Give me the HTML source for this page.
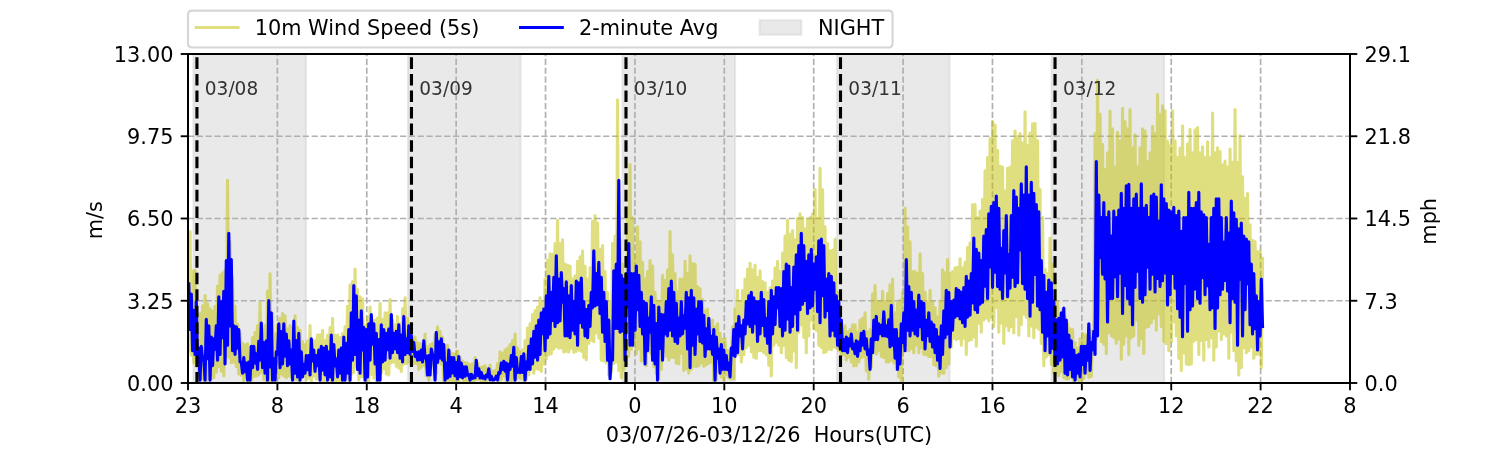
<!DOCTYPE html>
<html lang="en"><head><meta charset="utf-8"><title>10m Wind Speed</title>
<style>html,body{margin:0;padding:0;background:#fff;}body{width:1500px;height:450px;overflow:hidden;font-family:"DejaVu Sans","Liberation Sans",sans-serif;}svg{display:block;will-change:transform;}</style></head>
<body>
<svg  width="1500" height="450" viewBox="0 0 720 216">
 
 <defs>
  <style type="text/css">*{stroke-linejoin: round; stroke-linecap: butt}</style>
 </defs>
 <g id="figure_1">
  <g id="patch_1">
   <path d="M 0 216 
L 720 216 
L 720 0 
L 0 0 
z
" style="fill: #ffffff"/>
  </g>
  <g id="axes_1">
   <g id="patch_2">
    <path d="M 90.24 183.84 
L 648 183.84 
L 648 25.92 
L 90.24 25.92 
z
" style="fill: #ffffff"/>
   </g>
   <g id="patch_3">
    <path d="M 92.868766 183.84 
L 146.874092 183.84 
L 146.874092 25.92 
L 92.868766 25.92 
z
" clip-path="url(#p7437178275)" style="fill: #d3d3d3; fill-opacity: 0.5; stroke: #d3d3d3; stroke-opacity: 0.5; stroke-linejoin: miter"/>
   </g>
   <g id="patch_4">
    <path d="M 195.839843 183.84 
L 249.845169 183.84 
L 249.845169 25.92 
L 195.839843 25.92 
z
" clip-path="url(#p7437178275)" style="fill: #d3d3d3; fill-opacity: 0.5; stroke: #d3d3d3; stroke-opacity: 0.5; stroke-linejoin: miter"/>
   </g>
   <g id="patch_5">
    <path d="M 298.81092 183.84 
L 352.816246 183.84 
L 352.816246 25.92 
L 298.81092 25.92 
z
" clip-path="url(#p7437178275)" style="fill: #d3d3d3; fill-opacity: 0.5; stroke: #d3d3d3; stroke-opacity: 0.5; stroke-linejoin: miter"/>
   </g>
   <g id="patch_6">
    <path d="M 401.781997 183.84 
L 455.787323 183.84 
L 455.787323 25.92 
L 401.781997 25.92 
z
" clip-path="url(#p7437178275)" style="fill: #d3d3d3; fill-opacity: 0.5; stroke: #d3d3d3; stroke-opacity: 0.5; stroke-linejoin: miter"/>
   </g>
   <g id="patch_7">
    <path d="M 504.753073 183.84 
L 558.7584 183.84 
L 558.7584 25.92 
L 504.753073 25.92 
z
" clip-path="url(#p7437178275)" style="fill: #d3d3d3; fill-opacity: 0.5; stroke: #d3d3d3; stroke-opacity: 0.5; stroke-linejoin: miter"/>
   </g>
   <g id="matplotlib.axis_1">
    <g id="xtick_1">
     <g id="line2d_1">
      <path d="M 90.24 183.84 
L 90.24 25.92 
" clip-path="url(#p7437178275)" style="fill: none; stroke-dasharray: 2.96,1.28; stroke-dashoffset: 0; stroke: #b0b0b0; stroke-width: 0.8"/>
     </g>
     <g id="line2d_2">
      
      <g>
       <path d="M 0 0 L 0 3.5" transform="translate(90.24 183.84)" style="stroke: #000000; stroke-width: 0.9"/>
      </g>
     </g>
     <g id="text_1">
      <text style="font-size: 10px; font-family: 'DejaVu Sans', 'Liberation Sans', sans-serif; text-anchor: middle" x="90.24" y="198.438438" transform="rotate(-0 90.24 198.438438)">23</text>
     </g>
    </g>
    <g id="xtick_2">
     <g id="line2d_3">
      <path d="M 133.144615 183.84 
L 133.144615 25.92 
" clip-path="url(#p7437178275)" style="fill: none; stroke-dasharray: 2.96,1.28; stroke-dashoffset: 0; stroke: #b0b0b0; stroke-width: 0.8"/>
     </g>
     <g id="line2d_4">
      <g>
       <path d="M 0 0 L 0 3.5" transform="translate(133.144615 183.84)" style="stroke: #000000; stroke-width: 0.9"/>
      </g>
     </g>
     <g id="text_2">
      <text style="font-size: 10px; font-family: 'DejaVu Sans', 'Liberation Sans', sans-serif; text-anchor: middle" x="133.144615" y="198.438438" transform="rotate(-0 133.144615 198.438438)">8</text>
     </g>
    </g>
    <g id="xtick_3">
     <g id="line2d_5">
      <path d="M 176.049231 183.84 
L 176.049231 25.92 
" clip-path="url(#p7437178275)" style="fill: none; stroke-dasharray: 2.96,1.28; stroke-dashoffset: 0; stroke: #b0b0b0; stroke-width: 0.8"/>
     </g>
     <g id="line2d_6">
      <g>
       <path d="M 0 0 L 0 3.5" transform="translate(176.049231 183.84)" style="stroke: #000000; stroke-width: 0.9"/>
      </g>
     </g>
     <g id="text_3">
      <text style="font-size: 10px; font-family: 'DejaVu Sans', 'Liberation Sans', sans-serif; text-anchor: middle" x="176.049231" y="198.438438" transform="rotate(-0 176.049231 198.438438)">18</text>
     </g>
    </g>
    <g id="xtick_4">
     <g id="line2d_7">
      <path d="M 218.953846 183.84 
L 218.953846 25.92 
" clip-path="url(#p7437178275)" style="fill: none; stroke-dasharray: 2.96,1.28; stroke-dashoffset: 0; stroke: #b0b0b0; stroke-width: 0.8"/>
     </g>
     <g id="line2d_8">
      <g>
       <path d="M 0 0 L 0 3.5" transform="translate(218.953846 183.84)" style="stroke: #000000; stroke-width: 0.9"/>
      </g>
     </g>
     <g id="text_4">
      <text style="font-size: 10px; font-family: 'DejaVu Sans', 'Liberation Sans', sans-serif; text-anchor: middle" x="218.953846" y="198.438438" transform="rotate(-0 218.953846 198.438438)">4</text>
     </g>
    </g>
    <g id="xtick_5">
     <g id="line2d_9">
      <path d="M 261.858462 183.84 
L 261.858462 25.92 
" clip-path="url(#p7437178275)" style="fill: none; stroke-dasharray: 2.96,1.28; stroke-dashoffset: 0; stroke: #b0b0b0; stroke-width: 0.8"/>
     </g>
     <g id="line2d_10">
      <g>
       <path d="M 0 0 L 0 3.5" transform="translate(261.858462 183.84)" style="stroke: #000000; stroke-width: 0.9"/>
      </g>
     </g>
     <g id="text_5">
      <text style="font-size: 10px; font-family: 'DejaVu Sans', 'Liberation Sans', sans-serif; text-anchor: middle" x="261.858462" y="198.438438" transform="rotate(-0 261.858462 198.438438)">14</text>
     </g>
    </g>
    <g id="xtick_6">
     <g id="line2d_11">
      <path d="M 304.763077 183.84 
L 304.763077 25.92 
" clip-path="url(#p7437178275)" style="fill: none; stroke-dasharray: 2.96,1.28; stroke-dashoffset: 0; stroke: #b0b0b0; stroke-width: 0.8"/>
     </g>
     <g id="line2d_12">
      <g>
       <path d="M 0 0 L 0 3.5" transform="translate(304.763077 183.84)" style="stroke: #000000; stroke-width: 0.9"/>
      </g>
     </g>
     <g id="text_6">
      <text style="font-size: 10px; font-family: 'DejaVu Sans', 'Liberation Sans', sans-serif; text-anchor: middle" x="304.763077" y="198.438438" transform="rotate(-0 304.763077 198.438438)">0</text>
     </g>
    </g>
    <g id="xtick_7">
     <g id="line2d_13">
      <path d="M 347.667692 183.84 
L 347.667692 25.92 
" clip-path="url(#p7437178275)" style="fill: none; stroke-dasharray: 2.96,1.28; stroke-dashoffset: 0; stroke: #b0b0b0; stroke-width: 0.8"/>
     </g>
     <g id="line2d_14">
      <g>
       <path d="M 0 0 L 0 3.5" transform="translate(347.667692 183.84)" style="stroke: #000000; stroke-width: 0.9"/>
      </g>
     </g>
     <g id="text_7">
      <text style="font-size: 10px; font-family: 'DejaVu Sans', 'Liberation Sans', sans-serif; text-anchor: middle" x="347.667692" y="198.438438" transform="rotate(-0 347.667692 198.438438)">10</text>
     </g>
    </g>
    <g id="xtick_8">
     <g id="line2d_15">
      <path d="M 390.572308 183.84 
L 390.572308 25.92 
" clip-path="url(#p7437178275)" style="fill: none; stroke-dasharray: 2.96,1.28; stroke-dashoffset: 0; stroke: #b0b0b0; stroke-width: 0.8"/>
     </g>
     <g id="line2d_16">
      <g>
       <path d="M 0 0 L 0 3.5" transform="translate(390.572308 183.84)" style="stroke: #000000; stroke-width: 0.9"/>
      </g>
     </g>
     <g id="text_8">
      <text style="font-size: 10px; font-family: 'DejaVu Sans', 'Liberation Sans', sans-serif; text-anchor: middle" x="390.572308" y="198.438438" transform="rotate(-0 390.572308 198.438438)">20</text>
     </g>
    </g>
    <g id="xtick_9">
     <g id="line2d_17">
      <path d="M 433.476923 183.84 
L 433.476923 25.92 
" clip-path="url(#p7437178275)" style="fill: none; stroke-dasharray: 2.96,1.28; stroke-dashoffset: 0; stroke: #b0b0b0; stroke-width: 0.8"/>
     </g>
     <g id="line2d_18">
      <g>
       <path d="M 0 0 L 0 3.5" transform="translate(433.476923 183.84)" style="stroke: #000000; stroke-width: 0.9"/>
      </g>
     </g>
     <g id="text_9">
      <text style="font-size: 10px; font-family: 'DejaVu Sans', 'Liberation Sans', sans-serif; text-anchor: middle" x="433.476923" y="198.438438" transform="rotate(-0 433.476923 198.438438)">6</text>
     </g>
    </g>
    <g id="xtick_10">
     <g id="line2d_19">
      <path d="M 476.381538 183.84 
L 476.381538 25.92 
" clip-path="url(#p7437178275)" style="fill: none; stroke-dasharray: 2.96,1.28; stroke-dashoffset: 0; stroke: #b0b0b0; stroke-width: 0.8"/>
     </g>
     <g id="line2d_20">
      <g>
       <path d="M 0 0 L 0 3.5" transform="translate(476.381538 183.84)" style="stroke: #000000; stroke-width: 0.9"/>
      </g>
     </g>
     <g id="text_10">
      <text style="font-size: 10px; font-family: 'DejaVu Sans', 'Liberation Sans', sans-serif; text-anchor: middle" x="476.381538" y="198.438438" transform="rotate(-0 476.381538 198.438438)">16</text>
     </g>
    </g>
    <g id="xtick_11">
     <g id="line2d_21">
      <path d="M 519.286154 183.84 
L 519.286154 25.92 
" clip-path="url(#p7437178275)" style="fill: none; stroke-dasharray: 2.96,1.28; stroke-dashoffset: 0; stroke: #b0b0b0; stroke-width: 0.8"/>
     </g>
     <g id="line2d_22">
      <g>
       <path d="M 0 0 L 0 3.5" transform="translate(519.286154 183.84)" style="stroke: #000000; stroke-width: 0.9"/>
      </g>
     </g>
     <g id="text_11">
      <text style="font-size: 10px; font-family: 'DejaVu Sans', 'Liberation Sans', sans-serif; text-anchor: middle" x="519.286154" y="198.438438" transform="rotate(-0 519.286154 198.438438)">2</text>
     </g>
    </g>
    <g id="xtick_12">
     <g id="line2d_23">
      <path d="M 562.190769 183.84 
L 562.190769 25.92 
" clip-path="url(#p7437178275)" style="fill: none; stroke-dasharray: 2.96,1.28; stroke-dashoffset: 0; stroke: #b0b0b0; stroke-width: 0.8"/>
     </g>
     <g id="line2d_24">
      <g>
       <path d="M 0 0 L 0 3.5" transform="translate(562.190769 183.84)" style="stroke: #000000; stroke-width: 0.9"/>
      </g>
     </g>
     <g id="text_12">
      <text style="font-size: 10px; font-family: 'DejaVu Sans', 'Liberation Sans', sans-serif; text-anchor: middle" x="562.190769" y="198.438438" transform="rotate(-0 562.190769 198.438438)">12</text>
     </g>
    </g>
    <g id="xtick_13">
     <g id="line2d_25">
      <path d="M 605.095385 183.84 
L 605.095385 25.92 
" clip-path="url(#p7437178275)" style="fill: none; stroke-dasharray: 2.96,1.28; stroke-dashoffset: 0; stroke: #b0b0b0; stroke-width: 0.8"/>
     </g>
     <g id="line2d_26">
      <g>
       <path d="M 0 0 L 0 3.5" transform="translate(605.095385 183.84)" style="stroke: #000000; stroke-width: 0.9"/>
      </g>
     </g>
     <g id="text_13">
      <text style="font-size: 10px; font-family: 'DejaVu Sans', 'Liberation Sans', sans-serif; text-anchor: middle" x="605.095385" y="198.438438" transform="rotate(-0 605.095385 198.438438)">22</text>
     </g>
    </g>
    <g id="xtick_14">
     <g id="line2d_27">
      <path d="M 648 183.84 
L 648 25.92 
" clip-path="url(#p7437178275)" style="fill: none; stroke-dasharray: 2.96,1.28; stroke-dashoffset: 0; stroke: #b0b0b0; stroke-width: 0.8"/>
     </g>
     <g id="line2d_28">
      <g>
       <path d="M 0 0 L 0 3.5" transform="translate(648 183.84)" style="stroke: #000000; stroke-width: 0.9"/>
      </g>
     </g>
     <g id="text_14">
      <text style="font-size: 10px; font-family: 'DejaVu Sans', 'Liberation Sans', sans-serif; text-anchor: middle" x="648" y="198.438438" transform="rotate(-0 648 198.438438)">8</text>
     </g>
    </g>
    <g id="text_15">
     <text xml:space="preserve" style="font-size: 10px; font-family: 'DejaVu Sans', 'Liberation Sans', sans-serif; text-anchor: middle" x="369.12" y="212.116563" transform="rotate(-0 369.12 212.116563)">03/07/26-03/12/26  Hours(UTC)</text>
    </g>
   </g>
   <g id="matplotlib.axis_2">
    <g id="ytick_1">
     <g id="line2d_29">
      <path d="M 90.24 183.84 
L 648 183.84 
" clip-path="url(#p7437178275)" style="fill: none; stroke-dasharray: 2.96,1.28; stroke-dashoffset: 0; stroke: #b0b0b0; stroke-width: 0.8"/>
     </g>
     <g id="line2d_30">
      
      <g>
       <path d="M 0 0 L -3.5 0" transform="translate(90.24 183.84)" style="stroke: #000000; stroke-width: 0.9"/>
      </g>
     </g>
     <g id="text_16">
      <text style="font-size: 10px; font-family: 'DejaVu Sans', 'Liberation Sans', sans-serif; text-anchor: end" x="83.24" y="187.639219" transform="rotate(-0 83.24 187.639219)">0.00</text>
     </g>
    </g>
    <g id="ytick_2">
     <g id="line2d_31">
      <path d="M 90.24 144.36 
L 648 144.36 
" clip-path="url(#p7437178275)" style="fill: none; stroke-dasharray: 2.96,1.28; stroke-dashoffset: 0; stroke: #b0b0b0; stroke-width: 0.8"/>
     </g>
     <g id="line2d_32">
      <g>
       <path d="M 0 0 L -3.5 0" transform="translate(90.24 144.36)" style="stroke: #000000; stroke-width: 0.9"/>
      </g>
     </g>
     <g id="text_17">
      <text style="font-size: 10px; font-family: 'DejaVu Sans', 'Liberation Sans', sans-serif; text-anchor: end" x="83.24" y="148.159219" transform="rotate(-0 83.24 148.159219)">3.25</text>
     </g>
    </g>
    <g id="ytick_3">
     <g id="line2d_33">
      <path d="M 90.24 104.88 
L 648 104.88 
" clip-path="url(#p7437178275)" style="fill: none; stroke-dasharray: 2.96,1.28; stroke-dashoffset: 0; stroke: #b0b0b0; stroke-width: 0.8"/>
     </g>
     <g id="line2d_34">
      <g>
       <path d="M 0 0 L -3.5 0" transform="translate(90.24 104.88)" style="stroke: #000000; stroke-width: 0.9"/>
      </g>
     </g>
     <g id="text_18">
      <text style="font-size: 10px; font-family: 'DejaVu Sans', 'Liberation Sans', sans-serif; text-anchor: end" x="83.24" y="108.679219" transform="rotate(-0 83.24 108.679219)">6.50</text>
     </g>
    </g>
    <g id="ytick_4">
     <g id="line2d_35">
      <path d="M 90.24 65.4 
L 648 65.4 
" clip-path="url(#p7437178275)" style="fill: none; stroke-dasharray: 2.96,1.28; stroke-dashoffset: 0; stroke: #b0b0b0; stroke-width: 0.8"/>
     </g>
     <g id="line2d_36">
      <g>
       <path d="M 0 0 L -3.5 0" transform="translate(90.24 65.4)" style="stroke: #000000; stroke-width: 0.9"/>
      </g>
     </g>
     <g id="text_19">
      <text style="font-size: 10px; font-family: 'DejaVu Sans', 'Liberation Sans', sans-serif; text-anchor: end" x="83.24" y="69.199219" transform="rotate(-0 83.24 69.199219)">9.75</text>
     </g>
    </g>
    <g id="ytick_5">
     <g id="line2d_37">
      <path d="M 90.24 25.92 
L 648 25.92 
" clip-path="url(#p7437178275)" style="fill: none; stroke-dasharray: 2.96,1.28; stroke-dashoffset: 0; stroke: #b0b0b0; stroke-width: 0.8"/>
     </g>
     <g id="line2d_38">
      <g>
       <path d="M 0 0 L -3.5 0" transform="translate(90.24 25.92)" style="stroke: #000000; stroke-width: 0.9"/>
      </g>
     </g>
     <g id="text_20">
      <text style="font-size: 10px; font-family: 'DejaVu Sans', 'Liberation Sans', sans-serif; text-anchor: end" x="83.24" y="29.719219" transform="rotate(-0 83.24 29.719219)">13.00</text>
     </g>
    </g>
    <g id="text_21">
     <text style="font-size: 10px; font-family: 'DejaVu Sans', 'Liberation Sans', sans-serif; text-anchor: middle" x="49.032187" y="105.696" transform="rotate(-90 49.032187 105.696)">m/s</text>
    </g>
   </g>
   <g id="line2d_39">
    <path d="M 90.624 168.503152 
L 91.224 111.12 
L 91.824 170.494114 
L 92.424 130.196112 
L 93.024 174.135436 
L 93.624 129.744 
L 94.224 175.927967 
L 94.824 156.24 
L 95.424 181.670699 
L 96.024 150.48 
L 96.624 181.777485 
L 97.224 146.837563 
L 97.824 182.392611 
L 98.424 141.84 
L 99.024 183.301891 
L 99.624 145.884746 
L 100.224 181.757296 
L 100.824 148.176 
L 101.424 181.479104 
L 102.024 149.262122 
L 102.624 181.30556 
L 103.224 147.024 
L 103.824 178.616763 
L 104.424 137.302422 
L 105.024 175.927967 
L 105.624 132.048 
L 106.224 178.176917 
L 106.824 130.896 
L 107.424 180.409295 
L 108.024 129.744 
L 108.624 170.708005 
L 109.224 86.544 
L 109.824 171.446639 
L 110.424 115.92 
L 111.024 174.135436 
L 111.624 133.2 
L 112.224 173.811403 
L 112.824 147.024 
L 113.424 175.927967 
L 114.024 155.632978 
L 114.624 179.513029 
L 115.224 159.696 
L 115.824 180.128197 
L 116.424 164.748629 
L 117.024 183.552 
L 117.624 165.456 
L 118.224 181.198032 
L 118.824 165.079005 
L 119.424 183.500638 
L 120.024 166.732093 
L 120.624 182.748345 
L 121.224 162 
L 121.824 180.791942 
L 122.424 159.478703 
L 123.024 180.472172 
L 123.624 156.24 
L 124.224 179.936228 
L 124.824 145.296 
L 125.424 178.616763 
L 126.024 158.011554 
L 126.624 182.071543 
L 127.224 156.24 
L 127.824 183.131949 
L 128.424 139.697689 
L 129.024 183.120519 
L 129.624 131.472 
L 130.224 183.271476 
L 130.824 150.48 
L 131.424 182.456292 
L 132.024 160.291719 
L 132.624 183.320461 
L 133.224 156.24 
L 133.824 181.293276 
L 134.424 152.815778 
L 135.024 179.546615 
L 135.624 150.48 
L 136.224 180.409295 
L 136.824 151.632 
L 137.424 181.30556 
L 138.024 157.907282 
L 138.624 180.409295 
L 139.224 156.24 
L 139.824 181.082016 
L 140.424 156.824654 
L 141.024 182.078189 
L 141.624 151.632 
L 142.224 182.095191 
L 142.824 157.123035 
L 143.424 183.283944 
L 144.024 158.544 
L 144.624 180.612238 
L 145.224 163.919842 
L 145.824 180.495092 
L 146.424 165.456 
L 147.024 182.256508 
L 147.624 163.640967 
L 148.224 181.570554 
L 148.824 156.24 
L 149.424 183.527165 
L 150.024 163.485361 
L 150.624 180.574961 
L 151.224 163.548824 
L 151.824 182.057658 
L 152.424 160.848 
L 153.024 181.30556 
L 153.624 160.65203 
L 154.224 182.669486 
L 154.824 158.544 
L 155.424 183.139772 
L 156.024 163.442589 
L 156.624 183.363925 
L 157.224 160.848 
L 157.824 182.403061 
L 158.424 157.241493 
L 159.024 183.398298 
L 159.624 152.784 
L 160.224 182.657377 
L 160.824 161.001595 
L 161.424 183.299164 
L 162.024 160.848 
L 162.624 182.811697 
L 163.224 162 
L 163.824 183.465837 
L 164.424 160.150267 
L 165.024 183.348761 
L 165.624 156.816 
L 166.224 181.117633 
L 166.824 147.024 
L 167.424 183.492632 
L 168.024 136.656 
L 168.624 179.727838 
L 169.224 135.135852 
L 169.824 178.616763 
L 170.424 129.168 
L 171.024 175.927967 
L 171.624 138.96 
L 172.224 182.363366 
L 172.824 142.416 
L 173.424 180.950698 
L 174.024 143.568 
L 174.624 180.409295 
L 175.224 156.371452 
L 175.824 182.723715 
L 176.424 152.448158 
L 177.024 183.012395 
L 177.624 147.408797 
L 178.224 179.66934 
L 178.824 154.017666 
L 179.424 181.427621 
L 180.024 153.682656 
L 180.624 183.258514 
L 181.224 152.720801 
L 181.824 182.461297 
L 182.424 145.616266 
L 183.024 179.130622 
L 183.624 153.235377 
L 184.224 177.078852 
L 184.824 150.097593 
L 185.424 179.455227 
L 186.024 150.207106 
L 186.624 180.026888 
L 187.224 143.823734 
L 187.824 174.225618 
L 188.424 153.682656 
L 189.024 173.753029 
L 189.624 155.913077 
L 190.224 175.722059 
L 190.824 151.890124 
L 191.424 176.601252 
L 192.024 155.475187 
L 192.624 178.234357 
L 193.224 148.234165 
L 193.824 174.649295 
L 194.424 142.927469 
L 195.024 174.417151 
L 195.624 152.78639 
L 196.224 173.753029 
L 196.824 156.371452 
L 197.424 174.894858 
L 198.024 162.665319 
L 198.624 174.649295 
L 199.224 161.749046 
L 199.824 174.482038 
L 200.424 164.496703 
L 201.024 177.338091 
L 201.624 164.885975 
L 202.224 176.290939 
L 202.824 165.334108 
L 203.424 175.54556 
L 204.024 160.404647 
L 204.624 180.375213 
L 205.224 166.559655 
L 205.824 182.453592 
L 206.424 165.334108 
L 207.024 175.740138 
L 207.624 164.885975 
L 208.224 173.753029 
L 208.824 160.618146 
L 209.424 179.427062 
L 210.024 156.819585 
L 210.624 174.241065 
L 211.224 159.060249 
L 211.824 174.649295 
L 212.424 161.749046 
L 213.024 183.382284 
L 213.624 168.91917 
L 214.224 183.133883 
L 214.824 165.782241 
L 215.424 183.388502 
L 216.024 168.776782 
L 216.624 183.067828 
L 217.224 169.815436 
L 217.824 183.093811 
L 218.424 169.838557 
L 219.024 181.79794 
L 219.624 168.471037 
L 220.224 183.403893 
L 220.824 171.607967 
L 221.424 180.686043 
L 222.024 173.285484 
L 222.624 183.197136 
L 223.224 173.979459 
L 223.824 182.824579 
L 224.424 174.296763 
L 225.024 182.41136 
L 225.624 175.097404 
L 226.224 183.189018 
L 226.824 174.608337 
L 227.424 182.683328 
L 228.024 171.607967 
L 228.624 182.126981 
L 229.224 174.222095 
L 229.824 181.961515 
L 230.424 176.320198 
L 231.024 183.278044 
L 231.624 176.089295 
L 232.224 182.957889 
L 232.824 175.641162 
L 233.424 183.229377 
L 234.024 177.140791 
L 234.624 181.056546 
L 235.224 175.193029 
L 235.824 182.85842 
L 236.424 178.134898 
L 237.024 180.624226 
L 237.624 177.881826 
L 238.224 180.485421 
L 238.824 174.542388 
L 239.424 182.956676 
L 240.024 168.91917 
L 240.624 182.234581 
L 241.224 169.417396 
L 241.824 180.533798 
L 242.424 168.022905 
L 243.024 183.14486 
L 243.624 167.126639 
L 244.224 182.273279 
L 244.824 165.334108 
L 245.424 183.290448 
L 246.024 163.50126 
L 246.624 181.135239 
L 247.224 160.404647 
L 247.824 181.898224 
L 248.424 167.126639 
L 249.024 181.244336 
L 249.624 168.91917 
L 250.224 181.811888 
L 250.824 167.916269 
L 251.424 182.883036 
L 252.024 163.541577 
L 252.624 182.215981 
L 253.224 157.449164 
L 253.824 180.026888 
L 254.424 155.475187 
L 255.024 177.098096 
L 255.624 150.993859 
L 256.224 179.130622 
L 256.824 149.117007 
L 257.424 176.984172 
L 258.024 147.408797 
L 258.624 177.22034 
L 259.224 142.927469 
L 259.824 178.234357 
L 260.424 145.240068 
L 261.024 174.649295 
L 261.624 133.976763 
L 262.224 172.08 
L 262.824 124.945253 
L 263.424 170.254529 
L 264.024 121.877178 
L 264.624 169.776 
L 265.224 122.095003 
L 265.824 167.514464 
L 266.424 116.947718 
L 267.024 166.32 
L 267.624 105.744398 
L 268.224 167.106883 
L 268.824 116.947718 
L 269.424 166.973647 
L 270.024 115.155187 
L 270.624 168.892717 
L 271.224 126.806639 
L 271.824 168.624 
L 272.424 127.254772 
L 273.024 168.988966 
L 273.624 127.702905 
L 274.224 167.142854 
L 274.824 133.976763 
L 275.424 169.052808 
L 276.024 132.410213 
L 276.624 168.624 
L 277.224 125.462241 
L 277.824 167.981326 
L 278.424 123.221577 
L 279.024 168.624 
L 279.624 120.53278 
L 280.224 171.566466 
L 280.824 127.702905 
L 281.424 172.656 
L 282.024 133.976763 
L 282.624 164.754828 
L 283.224 128.59917 
L 283.824 163.115629 
L 284.424 106.192531 
L 285.024 164.016 
L 285.624 103.503734 
L 286.224 159.82929 
L 286.824 107.088797 
L 287.424 162.22787 
L 288.024 119.636515 
L 288.624 172.864277 
L 289.224 117.843983 
L 289.824 173.232 
L 290.424 130.391701 
L 291.024 174.03703 
L 291.624 140.250622 
L 292.224 180.144 
L 292.824 144.73195 
L 293.424 178.714703 
L 294.024 116.947718 
L 294.624 174.413716 
L 295.224 113.362656 
L 295.824 173.696611 
L 296.424 47.93527 
L 297.024 177.84 
L 297.624 115.155187 
L 298.224 181.311614 
L 298.824 126.806639 
L 299.424 177.63262 
L 300.024 131.287967 
L 300.624 174.348123 
L 301.224 99.918672 
L 301.824 170.928 
L 302.424 79.035685 
L 303.024 167.644612 
L 303.624 104.4 
L 304.224 165.292488 
L 304.824 122.325311 
L 305.424 169.776 
L 306.024 108.881328 
L 306.624 167.39081 
L 307.224 116.051452 
L 307.824 173.232 
L 308.424 125.910373 
L 309.024 172.511732 
L 309.624 133.976763 
L 310.224 175.536 
L 310.824 130.391701 
L 311.424 168.680474 
L 312.024 125.014108 
L 312.624 169.776 
L 313.224 127.702905 
L 313.824 175.852831 
L 314.424 140.250622 
L 315.024 179.426839 
L 315.624 144.594641 
L 316.224 181.666144 
L 316.824 144.73195 
L 317.424 177.272086 
L 318.024 132.184232 
L 318.624 168.580044 
L 319.224 134.498872 
L 319.824 170.928 
L 320.424 129.495436 
L 321.024 172.786299 
L 321.624 111.121992 
L 322.224 171.466824 
L 322.824 122.325311 
L 323.424 171.627364 
L 324.024 131.287967 
L 324.624 174.384 
L 325.224 140.108411 
L 325.824 174.564536 
L 326.424 133.976763 
L 327.024 169.666771 
L 327.624 133.976763 
L 328.224 177.84 
L 328.824 125.462241 
L 329.424 176.918154 
L 330.024 131.287967 
L 330.624 178.992 
L 331.224 122.773444 
L 331.824 177.268506 
L 332.424 126.538469 
L 333.024 175.711437 
L 333.624 126.806639 
L 334.224 176.035934 
L 334.824 137.561826 
L 335.424 175.536 
L 336.024 138.458091 
L 336.624 174.210321 
L 337.224 143.835685 
L 337.824 175.821558 
L 338.424 149.213278 
L 339.024 175.027809 
L 339.624 148.305062 
L 340.224 174.384 
L 340.824 154.026498 
L 341.424 173.810483 
L 342.024 153.682656 
L 342.624 183.040261 
L 343.224 157.027711 
L 343.824 182.45139 
L 344.424 155.475187 
L 345.024 178.275478 
L 345.624 159.956515 
L 346.224 180.978438 
L 346.824 162.882351 
L 347.424 182.384733 
L 348.024 162.645311 
L 348.624 179.834987 
L 349.224 168.308988 
L 349.824 181.389278 
L 350.424 168.022905 
L 351.024 182.01464 
L 351.624 156.705498 
L 352.224 181.819419 
L 352.824 148.305062 
L 353.424 170.167967 
L 354.024 139.354357 
L 354.624 170.076451 
L 355.224 144.73195 
L 355.824 173.753029 
L 356.424 139.48452 
L 357.024 170.308729 
L 357.624 133.976763 
L 358.224 166.89423 
L 358.824 129.123647 
L 359.424 165.686639 
L 360.024 126.358506 
L 360.624 168.85899 
L 361.224 129.495436 
L 361.824 171.445154 
L 362.424 127.254772 
L 363.024 171.960498 
L 363.624 133.080498 
L 364.224 168.296066 
L 364.824 129.943568 
L 365.424 168.375436 
L 366.024 135.209314 
L 366.624 169.271701 
L 367.224 135.769295 
L 367.824 170.279532 
L 368.424 140.250622 
L 369.024 175.297771 
L 369.624 138.124962 
L 370.224 180.475021 
L 370.824 134.873029 
L 371.424 165.686639 
L 372.024 128.59917 
L 372.624 164.242974 
L 373.224 125.462241 
L 373.824 165.664296 
L 374.424 130.391701 
L 375.024 169.271701 
L 375.624 121.429046 
L 376.224 165.798112 
L 376.824 113.362656 
L 377.424 171.635988 
L 378.024 105.744398 
L 378.624 172.856763 
L 379.224 112.46639 
L 379.824 173.453418 
L 380.424 110.673859 
L 381.024 168.431347 
L 381.624 115.155187 
L 382.224 176.441826 
L 382.824 104.848133 
L 383.424 159.41278 
L 384.024 102.607469 
L 384.624 155.827718 
L 385.224 104.4 
L 385.824 162.026606 
L 386.424 109.777593 
L 387.024 169.271701 
L 387.624 105.296266 
L 388.224 161.205311 
L 388.824 104.4 
L 389.424 153.640212 
L 390.024 102.607469 
L 390.624 157.620249 
L 391.224 90.956017 
L 391.824 158.507919 
L 392.424 104.827255 
L 393.024 165.686639 
L 393.624 80.828216 
L 394.224 166.720899 
L 394.824 90.956017 
L 395.424 169.271701 
L 396.024 108.881328 
L 396.624 168.849629 
L 397.224 116.947718 
L 397.824 167.47917 
L 398.424 120.53278 
L 399.024 167.810603 
L 399.624 119.983614 
L 400.224 166.582905 
L 400.824 114.707054 
L 401.424 166.996701 
L 402.024 140.250622 
L 402.624 168.375436 
L 403.224 153.682656 
L 403.824 170.655707 
L 404.424 158.067377 
L 405.024 170.215562 
L 405.624 156.371452 
L 406.224 172.856763 
L 406.824 159.375512 
L 407.424 171.370415 
L 408.024 158.224226 
L 408.624 173.753029 
L 409.224 155.92332 
L 409.824 175.647219 
L 410.424 155.946611 
L 411.024 175.54556 
L 411.624 159.40491 
L 412.224 173.747972 
L 412.824 153.682656 
L 413.424 171.836468 
L 414.024 152.627958 
L 414.624 171.064232 
L 415.224 150.097593 
L 415.824 178.040689 
L 416.424 159.364274 
L 417.024 182.008665 
L 417.624 158.163983 
L 418.224 176.073419 
L 418.824 141.146888 
L 419.424 169.271701 
L 420.024 137.113693 
L 420.624 169.911639 
L 421.224 144.73195 
L 421.824 168.321621 
L 422.424 144.758559 
L 423.024 171.064232 
L 423.624 139.80249 
L 424.224 171.616898 
L 424.824 144.73195 
L 425.424 173.753029 
L 426.024 140.851422 
L 426.624 173.746784 
L 427.224 136.66556 
L 427.824 172.856763 
L 428.424 133.976763 
L 429.024 174.061532 
L 429.624 150.30189 
L 430.224 177.272019 
L 430.824 145.628216 
L 431.424 180.923154 
L 432.024 144.072852 
L 432.624 182.694785 
L 433.224 140.250622 
L 433.824 168.11411 
L 434.424 99.918672 
L 435.024 165.686639 
L 435.624 108.881328 
L 436.224 168.375436 
L 436.824 116.051452 
L 437.424 167.254797 
L 438.024 130.353035 
L 438.624 169.271701 
L 439.224 130.391701 
L 439.824 165.618026 
L 440.424 131.287967 
L 441.024 169.271701 
L 441.624 121.877178 
L 442.224 166.989054 
L 442.824 131.287967 
L 443.424 170.167967 
L 444.024 140.250622 
L 444.624 170.262182 
L 445.224 145.341774 
L 445.824 171.064232 
L 446.424 139.354357 
L 447.024 171.141826 
L 447.624 144.73195 
L 448.224 175.015436 
L 448.824 147.754215 
L 449.424 175.54556 
L 450.024 152.186348 
L 450.624 180.601737 
L 451.224 144.73195 
L 451.824 179.007496 
L 452.424 129.495436 
L 453.024 179.130622 
L 453.624 130.899633 
L 454.224 176.470761 
L 454.824 124.565975 
L 455.424 174.649295 
L 456.024 131.287967 
L 456.624 166.582905 
L 457.224 130.391701 
L 457.824 162.287713 
L 458.424 128.59917 
L 459.024 162.997842 
L 459.624 128.358412 
L 460.224 162.453876 
L 460.824 124.117842 
L 461.424 165.686639 
L 462.024 128.59917 
L 462.624 162.349029 
L 463.224 125.910373 
L 463.824 170.167967 
L 464.424 118.740249 
L 465.024 163.486075 
L 465.624 116.499585 
L 466.224 162.997842 
L 466.824 98.138091 
L 467.424 161.734169 
L 468.024 98.138091 
L 468.624 166.134772 
L 469.224 104.41195 
L 469.824 155.169658 
L 470.424 101.275021 
L 471.024 159.41278 
L 471.624 95.70233 
L 472.224 153.574603 
L 472.824 82.005311 
L 473.424 152.630957 
L 474.024 75.6 
L 474.624 154.035187 
L 475.224 66.384 
L 475.824 152.162915 
L 476.424 58.32 
L 477.024 156.723983 
L 477.624 60.048 
L 478.224 147.58374 
L 478.824 72.144 
L 479.424 159.41278 
L 480.024 79.710537 
L 480.624 155.161172 
L 481.224 80.208 
L 481.824 164.790373 
L 482.424 91.697051 
L 483.024 156.297944 
L 483.624 80.784 
L 484.224 158.674835 
L 484.824 80.208 
L 485.424 156.723983 
L 486.024 67.536 
L 486.624 159.860913 
L 487.224 62.928 
L 487.824 151.940416 
L 488.424 65.564603 
L 489.024 160.757178 
L 489.624 64.08 
L 490.224 155.797635 
L 490.824 68.688 
L 491.424 150.860918 
L 492.024 53.712 
L 492.624 152.242656 
L 493.224 69.84 
L 493.824 161.205311 
L 494.424 63.866265 
L 495.024 156.467519 
L 495.624 59.472 
L 496.224 162.101577 
L 496.824 59.2416 
L 497.424 157.022286 
L 498.024 67.536 
L 498.624 157.987115 
L 499.224 90.967967 
L 499.824 164.790373 
L 500.424 104.41195 
L 501.024 175.54556 
L 501.624 129.300144 
L 502.224 171.300014 
L 502.824 131.287967 
L 503.424 170.167967 
L 504.024 114.258921 
L 504.624 174.974138 
L 505.224 126.806639 
L 505.824 179.130622 
L 506.424 133.976763 
L 507.024 179.130622 
L 507.624 144.73195 
L 508.224 180.324434 
L 508.824 151.469281 
L 509.424 178.307263 
L 510.024 148.555248 
L 510.624 181.317291 
L 511.224 151.890124 
L 511.824 181.889109 
L 512.424 155.475187 
L 513.024 181.780663 
L 513.624 157.810693 
L 514.224 180.580701 
L 514.824 158.163983 
L 515.424 183.11515 
L 516.024 164.437842 
L 516.624 182.154002 
L 517.224 167.205437 
L 517.824 182.80907 
L 518.424 162.645311 
L 519.024 182.837709 
L 519.624 159.956515 
L 520.224 181.686 
L 520.824 160.85278 
L 521.424 179.166383 
L 522.024 160.85278 
L 522.624 181.11042 
L 523.224 158.163983 
L 523.824 180.701394 
L 524.424 159.326939 
L 525.024 170.167967 
L 525.624 64.08 
L 526.224 163.062216 
L 526.824 38.5056 
L 527.424 152.242656 
L 528.024 54.864 
L 528.624 163.894108 
L 529.224 69.264 
L 529.824 165.261329 
L 530.424 81.337729 
L 531.024 169.719834 
L 531.624 73.296 
L 532.224 159.588616 
L 532.824 53.3664 
L 533.424 161.205311 
L 534.024 61.776 
L 534.624 161.934446 
L 535.224 80.205476 
L 535.824 164.790373 
L 536.424 63.504 
L 537.024 162.700879 
L 537.624 67.536 
L 538.224 172.408631 
L 538.824 51.984 
L 539.424 165.165832 
L 540.024 58.32 
L 540.624 161.205311 
L 541.224 61.776 
L 541.824 170.167967 
L 542.424 52.56 
L 543.024 162.164211 
L 543.624 70.992 
L 544.224 161.205311 
L 544.824 64.656 
L 545.424 153.619636 
L 546.024 80.010971 
L 546.624 165.686639 
L 547.224 70.992 
L 547.824 162.553004 
L 548.424 61.776 
L 549.024 169.719834 
L 549.624 62.928 
L 550.224 157.072954 
L 550.824 77.538029 
L 551.424 156.723983 
L 552.024 73.296 
L 552.624 154.931452 
L 553.224 60.624 
L 553.824 152.746612 
L 554.424 64.08 
L 555.024 158.516515 
L 555.624 45.4176 
L 556.224 150.689035 
L 556.824 54.864 
L 557.424 156.723983 
L 558.024 50.832 
L 558.624 163.894108 
L 559.224 53.136 
L 559.824 164.856629 
L 560.424 67.799138 
L 561.024 168.375436 
L 561.624 69.84 
L 562.224 163.894108 
L 562.824 53.136 
L 563.424 154.37676 
L 564.024 67.536 
L 564.624 161.205311 
L 565.224 75.6 
L 565.824 171.960498 
L 566.424 71.070787 
L 567.024 177.786224 
L 567.624 60.3936 
L 568.224 169.415354 
L 568.824 75.6 
L 569.424 174.649295 
L 570.024 69.105071 
L 570.624 175.024914 
L 571.224 62.1216 
L 571.824 174.649295 
L 572.424 73.296 
L 573.024 163.804556 
L 573.624 62.352 
L 574.224 162.997842 
L 574.824 61.2 
L 575.424 170.167967 
L 576.024 73.296 
L 576.624 163.403601 
L 577.224 70.416 
L 577.824 172.856763 
L 578.424 75.6 
L 579.024 162.917964 
L 579.624 68.112 
L 580.224 166.582905 
L 580.824 75.6 
L 581.424 162.161739 
L 582.024 54.288 
L 582.624 172.856763 
L 583.224 73.296 
L 583.824 166.513085 
L 584.424 70.992 
L 585.024 158.805312 
L 585.624 72.72 
L 586.224 162.997842 
L 586.824 79.056 
L 587.424 160.250808 
L 588.024 77.328 
L 588.624 161.205311 
L 589.224 80.208 
L 589.824 171.960498 
L 590.424 71.568 
L 591.024 159.475506 
L 591.624 77.904 
L 592.224 168.375436 
L 592.824 52.56 
L 593.424 173.246178 
L 594.024 77.904 
L 594.624 180.026888 
L 595.224 65.232 
L 595.824 176.441826 
L 596.424 84.816 
L 597.024 166.876045 
L 597.624 95.189404 
L 598.224 169.271701 
L 598.824 92.88 
L 599.424 168.375436 
L 600.024 107.856 
L 600.624 166.404131 
L 601.224 115.400124 
L 601.824 171.960498 
L 602.424 115.92 
L 603.024 170.167967 
L 603.624 120.919826 
L 604.224 169.865787 
L 604.824 120.528 
L 605.424 176.441826 
L 606.024 123.984 
L 606.024 123.984 
" clip-path="url(#p7437178275)" style="fill: none; stroke: #bfbf00; stroke-opacity: 0.5; stroke-width: 1.5; stroke-linecap: square"/>
   </g>
   <g id="line2d_40">
    <path d="M 90.624 136.217427 
L 91.224 158.084946 
L 91.824 141.146888 
L 92.424 168.375436 
L 93.024 148.97043 
L 93.624 170.167967 
L 94.224 144.72 
L 94.824 173.633841 
L 95.424 167.126639 
L 96.024 182.446805 
L 96.624 166.230373 
L 97.224 172.600636 
L 97.824 171.326594 
L 98.424 182.446805 
L 99.024 153.234523 
L 99.624 172.211531 
L 100.224 156.371452 
L 100.824 182.446805 
L 101.424 161.749046 
L 102.024 175.54556 
L 102.624 162.645311 
L 103.224 167.58043 
L 103.824 156.371452 
L 104.424 172.856763 
L 105.024 142.491286 
L 105.624 170.167967 
L 106.224 144.73195 
L 106.824 162.076584 
L 107.424 139.80249 
L 108.024 174.649295 
L 108.624 125.014108 
L 109.224 165.686639 
L 109.824 112.018257 
L 110.424 156.403308 
L 111.024 124.565975 
L 111.624 168.375436 
L 112.224 156.371452 
L 112.824 170.167967 
L 113.424 156.819585 
L 114.024 167.17539 
L 114.624 158.163983 
L 115.224 173.753029 
L 115.824 173.804191 
L 116.424 179.130622 
L 117.024 171.607967 
L 117.624 178.460481 
L 118.224 174.296763 
L 118.824 182.446805 
L 119.424 173.842541 
L 120.024 182.446805 
L 120.624 166.230373 
L 121.224 176.441826 
L 121.824 166.230373 
L 122.424 174.303527 
L 123.024 169.815436 
L 123.624 177.338091 
L 124.224 163.882273 
L 124.824 172.856763 
L 125.424 155.027054 
L 126.024 176.441826 
L 126.624 164.437842 
L 127.224 179.130622 
L 127.824 163.541577 
L 128.424 182.446805 
L 129.024 144.283817 
L 129.624 176.156464 
L 130.224 150.097593 
L 130.824 182.446805 
L 131.424 172.19183 
L 132.024 182.446805 
L 132.624 168.91917 
L 133.224 169.967686 
L 133.824 155.475187 
L 134.424 176.441826 
L 135.024 159.11001 
L 135.624 174.649295 
L 136.224 155.475187 
L 136.824 170.950705 
L 137.424 160.404647 
L 138.024 175.54556 
L 138.624 163.541577 
L 139.224 174.649295 
L 139.824 168.022905 
L 140.424 182.446805 
L 141.024 154.130788 
L 141.624 179.130622 
L 142.224 163.411646 
L 142.824 180.923154 
L 143.424 159.956515 
L 144.024 182.446805 
L 144.624 168.91917 
L 145.224 180.923154 
L 145.824 174.864571 
L 146.424 179.130622 
L 147.024 170.711701 
L 147.624 177.416305 
L 148.224 170.711701 
L 148.824 180.026888 
L 149.424 162.645311 
L 150.024 173.279848 
L 150.624 168.022905 
L 151.224 178.234357 
L 151.824 170.683857 
L 152.424 175.54556 
L 153.024 168.022905 
L 153.624 182.446805 
L 154.224 166.230373 
L 154.824 177.707434 
L 155.424 167.126639 
L 156.024 179.919362 
L 156.624 166.230373 
L 157.224 182.446805 
L 157.824 168.900359 
L 158.424 180.923154 
L 159.024 160.85278 
L 159.624 182.446805 
L 160.224 165.334108 
L 160.824 175.606684 
L 161.424 172.298115 
L 162.024 180.923154 
L 162.624 168.022905 
L 163.224 179.106961 
L 163.824 167.126639 
L 164.424 182.446805 
L 165.024 161.749046 
L 165.624 182.446805 
L 166.224 164.837001 
L 166.824 179.130622 
L 167.424 158.163983 
L 168.024 182.446805 
L 168.624 150.097593 
L 169.224 172.856763 
L 169.824 137.113693 
L 170.424 170.167967 
L 171.024 142.043154 
L 171.624 177.338091 
L 172.224 153.682656 
L 172.824 179.130622 
L 173.424 149.201328 
L 174.024 167.966633 
L 174.624 157.267718 
L 175.224 182.446805 
L 175.824 158.163983 
L 176.424 180.923154 
L 177.024 155.475187 
L 177.624 172.856763 
L 178.224 150.993859 
L 178.824 165.222168 
L 179.424 155.475187 
L 180.024 174.649295 
L 180.624 159.956515 
L 181.224 182.446805 
L 181.824 162.978219 
L 182.424 182.446805 
L 183.024 155.92332 
L 183.624 173.753029 
L 184.224 158.163983 
L 184.824 172.856763 
L 185.424 159.956515 
L 186.024 167.844228 
L 186.624 157.993688 
L 187.224 171.960498 
L 187.824 150.993859 
L 188.424 169.271701 
L 189.024 159.956515 
L 189.624 167.41388 
L 190.224 159.060249 
L 190.824 169.271701 
L 191.424 155.92332 
L 192.024 171.960498 
L 192.624 160.85278 
L 193.224 173.753029 
L 193.824 151.890124 
L 194.424 170.167967 
L 195.024 162.663272 
L 195.624 169.271701 
L 196.224 156.371452 
L 196.824 170.167967 
L 197.424 160.85278 
L 198.024 168.690028 
L 198.624 164.437842 
L 199.224 171.064232 
L 199.824 169.14844 
L 200.424 172.856763 
L 201.024 168.91917 
L 201.624 172.629333 
L 202.224 168.022905 
L 202.824 173.753029 
L 203.424 163.541577 
L 204.024 171.960498 
L 204.624 170.938295 
L 205.224 180.026888 
L 205.824 170.711701 
L 206.424 180.026888 
L 207.024 167.574772 
L 207.624 170.167967 
L 208.224 170.711701 
L 208.824 182.446805 
L 209.424 159.508382 
L 210.024 173.96692 
L 210.624 164.086328 
L 211.224 171.960498 
L 211.824 162.645311 
L 212.424 172.856763 
L 213.024 165.334108 
L 213.624 182.446805 
L 214.224 174.296763 
L 214.824 181.460765 
L 215.424 168.022905 
L 216.024 180.681545 
L 216.624 171.607967 
L 217.224 178.976811 
L 217.824 171.607967 
L 218.424 180.370421 
L 219.024 174.032952 
L 219.624 181.919757 
L 220.224 171.159834 
L 220.824 180.847485 
L 221.424 174.296763 
L 222.024 181.386467 
L 222.624 176.089295 
L 223.224 180.579224 
L 223.824 176.089295 
L 224.424 180.045777 
L 225.024 179.81279 
L 225.624 182.446805 
L 226.224 179.674357 
L 226.824 181.620302 
L 227.424 180.570622 
L 228.024 181.369827 
L 228.624 172.952365 
L 229.224 180.186915 
L 229.824 176.98556 
L 230.424 181.401075 
L 231.024 178.778091 
L 231.624 181.488894 
L 232.224 180.570622 
L 232.824 181.909167 
L 233.424 180.035426 
L 234.024 180.861028 
L 234.624 176.98556 
L 235.224 182.312895 
L 235.824 180.570622 
L 236.424 182.416637 
L 237.024 182.363154 
L 237.624 181.899334 
L 238.224 180.570622 
L 238.824 182.446805 
L 239.424 178.778091 
L 240.024 179.130622 
L 240.624 174.296763 
L 241.224 177.338091 
L 241.824 173.400498 
L 242.424 178.150504 
L 243.024 174.296763 
L 243.624 182.446805 
L 244.224 174.864608 
L 244.824 177.338091 
L 245.424 170.711701 
L 246.024 175.729776 
L 246.624 166.678506 
L 247.224 182.446805 
L 247.824 171.607967 
L 248.424 178.799626 
L 249.024 177.719795 
L 249.624 178.811476 
L 250.224 171.159834 
L 250.824 178.798014 
L 251.424 169.815436 
L 252.024 182.446805 
L 252.624 173.795269 
L 253.224 177.338091 
L 253.824 166.230373 
L 254.424 177.338091 
L 255.024 162.645311 
L 255.624 174.649295 
L 256.224 159.060249 
L 256.824 171.397701 
L 257.424 156.371452 
L 258.024 172.856763 
L 258.624 153.682656 
L 259.224 170.167967 
L 259.824 150.097593 
L 260.424 160.133259 
L 261.024 148.305062 
L 261.624 168.375436 
L 262.224 142.043154 
L 262.824 162.101577 
L 263.424 132.632365 
L 264.024 160.309046 
L 264.624 140.250622 
L 265.224 153.81075 
L 265.824 133.080498 
L 266.424 156.723983 
L 267.024 122.773444 
L 267.624 154.931452 
L 268.224 133.976763 
L 268.824 154.035187 
L 269.424 130.839834 
L 270.024 145.082207 
L 270.624 138.475234 
L 271.224 161.205311 
L 271.824 135.321162 
L 272.424 161.205311 
L 273.024 142.043154 
L 273.624 162.101577 
L 274.224 137.113693 
L 274.824 158.516515 
L 275.424 144.73195 
L 276.024 160.309046 
L 276.624 134.873029 
L 277.224 165.686639 
L 277.824 135.769295 
L 278.424 154.931452 
L 279.024 133.528631 
L 279.624 157.107234 
L 280.224 144.73195 
L 280.824 161.205311 
L 281.424 148.544714 
L 282.024 162.101577 
L 282.624 146.524481 
L 283.224 156.723983 
L 283.824 140.250622 
L 284.424 147.761328 
L 285.024 120.353527 
L 285.624 146.865062 
L 286.224 131.287967 
L 286.824 146.286791 
L 287.424 125.910373 
L 288.024 150.450124 
L 288.624 133.080498 
L 289.224 159.41278 
L 289.824 140.250622 
L 290.424 163.894108 
L 291.024 144.73195 
L 291.624 172.856763 
L 292.224 153.682656 
L 292.824 181.819419 
L 293.424 171.607967 
L 294.024 172.856763 
L 294.624 129.943568 
L 295.224 157.620249 
L 295.824 126.806639 
L 296.424 157.620249 
L 297.024 86.564315 
L 297.624 159.41278 
L 298.224 132.184232 
L 298.824 158.848516 
L 299.424 133.976763 
L 300.024 172.856763 
L 300.624 131.287967 
L 301.224 147.176598 
L 301.824 116.947718 
L 302.424 165.686639 
L 303.024 131.287967 
L 303.624 165.686639 
L 304.224 131.287967 
L 304.824 158.516515 
L 305.424 127.702905 
L 306.024 148.657593 
L 306.624 132.184232 
L 307.224 156.723983 
L 307.824 140.250622 
L 308.424 160.309046 
L 309.024 144.73195 
L 309.624 174.649295 
L 310.224 145.628216 
L 310.824 168.375436 
L 311.424 152.710886 
L 312.024 159.41278 
L 312.624 142.491286 
L 313.224 172.856763 
L 313.824 146.524481 
L 314.424 174.649295 
L 315.024 155.282626 
L 315.624 182.446805 
L 316.224 147.420747 
L 316.824 167.302187 
L 317.424 150.907616 
L 318.024 172.856763 
L 318.624 151.082257 
L 319.224 160.309046 
L 319.824 144.73195 
L 320.424 161.205311 
L 321.024 138.458091 
L 321.624 158.516515 
L 322.224 134.873029 
L 322.824 161.205311 
L 323.424 140.250622 
L 324.024 163.894108 
L 324.624 145.628216 
L 325.224 164.790373 
L 325.824 152.643195 
L 326.424 161.205311 
L 327.024 144.73195 
L 327.624 160.309046 
L 328.224 151.599298 
L 328.824 157.509471 
L 329.424 140.250622 
L 330.024 167.47917 
L 330.624 142.939419 
L 331.224 176.441826 
L 331.824 139.354357 
L 332.424 165.686639 
L 333.024 142.939419 
L 333.624 170.167967 
L 334.224 148.347526 
L 334.824 160.309046 
L 335.424 144.73195 
L 336.024 163.894108 
L 336.624 144.72 
L 337.224 164.660001 
L 337.824 151.373839 
L 338.424 171.064232 
L 339.024 157.870307 
L 339.624 167.47917 
L 340.224 152.78639 
L 340.824 167.47917 
L 341.424 161.480801 
L 342.024 170.167967 
L 342.624 158.163983 
L 343.224 182.446805 
L 343.824 161.749046 
L 344.424 171.960498 
L 345.024 167.514617 
L 345.624 179.130622 
L 346.224 165.334108 
L 346.824 177.338091 
L 347.424 168.022905 
L 348.024 177.338091 
L 348.624 170.711701 
L 349.224 177.429665 
L 349.824 174.296763 
L 350.424 180.923154 
L 351.024 167.126639 
L 351.624 170.529306 
L 352.224 158.163983 
L 352.824 171.064232 
L 353.424 155.475187 
L 354.024 169.271701 
L 354.624 151.890124 
L 355.224 161.205311 
L 355.824 156.371452 
L 356.424 167.47917 
L 357.024 153.682656 
L 357.624 160.309046 
L 358.224 144.73195 
L 358.824 155.477158 
L 359.424 142.043154 
L 360.024 156.723983 
L 360.624 140.250622 
L 361.224 159.41278 
L 361.824 142.939419 
L 362.424 155.232952 
L 363.024 144.73195 
L 363.624 163.894108 
L 364.224 144.73195 
L 364.824 160.309046 
L 365.424 140.250622 
L 366.024 156.159655 
L 366.624 143.835685 
L 367.224 161.205311 
L 367.824 152.887014 
L 368.424 164.790373 
L 369.024 144.73195 
L 369.624 169.271701 
L 370.224 139.354357 
L 370.824 160.309046 
L 371.424 142.472831 
L 372.024 155.827718 
L 372.624 138.009959 
L 373.224 147.64165 
L 373.824 138.009959 
L 374.424 156.723983 
L 375.024 138.458091 
L 375.624 161.205311 
L 376.224 130.391701 
L 376.824 158.516515 
L 377.424 126.806639 
L 378.024 153.063348 
L 378.624 127.702905 
L 379.224 159.41278 
L 379.824 138.009395 
L 380.424 156.723983 
L 381.024 128.151037 
L 381.624 150.571772 
L 382.224 122.325311 
L 382.824 158.516515 
L 383.424 117.843983 
L 384.024 148.657593 
L 384.624 112.018257 
L 385.224 145.968797 
L 385.824 117.843983 
L 386.424 144.207768 
L 387.024 125.462241 
L 387.624 150.450124 
L 388.224 122.325311 
L 388.824 147.761328 
L 389.424 119.636515 
L 390.024 146.865062 
L 390.624 126.806639 
L 391.224 138.851874 
L 391.824 123.221577 
L 392.424 149.553859 
L 393.024 115.60332 
L 393.624 154.931452 
L 394.224 114.707054 
L 394.824 141.970125 
L 395.424 117.843983 
L 396.024 152.242656 
L 396.624 133.976763 
L 397.224 149.016549 
L 397.824 131.287967 
L 398.424 161.205311 
L 399.024 132.632365 
L 399.624 158.516515 
L 400.224 135.769295 
L 400.824 161.205311 
L 401.424 142.043154 
L 402.024 165.686639 
L 402.624 144.73195 
L 403.224 166.732193 
L 403.824 153.682656 
L 404.424 168.375436 
L 405.024 162.948125 
L 405.624 168.375436 
L 406.224 161.749046 
L 406.824 169.271701 
L 407.424 162.645311 
L 408.024 166.067395 
L 408.624 160.404647 
L 409.224 167.47917 
L 409.824 165.334108 
L 410.424 169.787701 
L 411.024 163.541577 
L 411.624 171.064232 
L 412.224 164.180018 
L 412.824 168.375436 
L 413.424 159.956515 
L 414.024 165.686639 
L 414.624 159.060249 
L 415.224 167.496119 
L 415.824 162.645311 
L 416.424 170.167967 
L 417.024 168.022905 
L 417.624 177.338091 
L 418.224 162.645311 
L 418.824 169.271701 
L 419.424 153.682656 
L 420.024 162.997842 
L 420.624 151.890124 
L 421.224 162.997842 
L 421.824 155.475187 
L 422.424 160.127187 
L 423.024 156.11162 
L 423.624 161.205311 
L 424.224 149.649461 
L 424.824 161.205311 
L 425.424 156.371452 
L 426.024 161.569115 
L 426.624 153.56789 
L 427.224 166.582905 
L 427.824 146.512531 
L 428.424 165.686639 
L 429.024 158.163983 
L 429.624 171.960498 
L 430.224 158.163983 
L 430.824 177.338091 
L 431.424 162.645311 
L 432.024 174.649295 
L 432.624 155.475187 
L 433.224 164.395909 
L 433.824 150.097593 
L 434.424 168.375436 
L 435.024 124.565975 
L 435.624 158.516515 
L 436.224 137.561826 
L 436.824 161.205311 
L 437.424 140.250622 
L 438.024 158.463118 
L 438.624 144.73195 
L 439.224 160.309046 
L 439.824 148.823707 
L 440.424 161.205311 
L 441.024 141.595021 
L 441.624 156.774429 
L 442.224 144.73195 
L 442.824 162.997842 
L 443.424 145.616266 
L 444.024 167.47917 
L 444.624 153.80891 
L 445.224 161.103023 
L 445.824 150.097593 
L 446.424 163.894108 
L 447.024 154.578921 
L 447.624 166.582905 
L 448.224 155.92332 
L 448.824 169.271701 
L 449.424 158.163983 
L 450.024 172.856763 
L 450.624 161.749046 
L 451.224 176.889959 
L 451.824 156.371452 
L 452.424 170.167967 
L 453.024 149.201328 
L 453.624 162.101577 
L 454.224 139.354357 
L 454.824 160.309046 
L 455.424 140.250622 
L 456.024 166.582905 
L 456.624 144.73195 
L 457.224 158.516515 
L 457.824 144.054073 
L 458.424 152.242656 
L 459.024 138.458091 
L 459.624 151.529313 
L 460.224 139.354357 
L 460.824 153.138921 
L 461.424 140.250622 
L 462.024 154.931452 
L 462.624 138.009959 
L 463.224 156.723983 
L 463.824 132.632365 
L 464.424 152.242656 
L 465.024 134.873029 
L 465.624 151.34639 
L 466.224 131.287967 
L 466.824 145.434544 
L 467.424 114.258921 
L 468.024 148.657593 
L 468.624 119.636515 
L 469.224 150.001992 
L 469.824 121.429046 
L 470.424 145.968797 
L 471.024 125.014108 
L 471.624 145.072531 
L 472.224 113.362656 
L 472.824 137.384723 
L 473.424 110.225726 
L 474.024 143.28 
L 474.624 102.619419 
L 475.224 128.103781 
L 475.824 99.034357 
L 476.424 137.914357 
L 477.024 97.241826 
L 477.624 130.631931 
L 478.224 94.104896 
L 478.824 137.466224 
L 479.424 99.930622 
L 480.024 138.810622 
L 480.624 119.243032 
L 481.224 143.29195 
L 481.824 110.685809 
L 482.424 131.061085 
L 483.024 103.515685 
L 483.624 142.395685 
L 484.224 122.152479 
L 484.824 138.36249 
L 485.424 103.515685 
L 486.024 133.022968 
L 486.624 91.4161 
L 487.224 137.466224 
L 487.824 94.553029 
L 488.424 135.673693 
L 489.024 99.930622 
L 489.624 119.961855 
L 490.224 88.27917 
L 490.824 136.121826 
L 491.424 93.656763 
L 492.024 138.810622 
L 492.624 80.033527 
L 493.224 143.29195 
L 493.824 93.656763 
L 494.424 151.794523 
L 495.024 87.562158 
L 495.624 145.072531 
L 496.224 92.760498 
L 496.824 131.738847 
L 497.424 98.138091 
L 498.024 146.865062 
L 498.624 101.723154 
L 499.224 148.657593 
L 499.824 125.014108 
L 500.424 159.41278 
L 501.024 132.184232 
L 501.624 168.375436 
L 502.224 140.250622 
L 502.824 161.205311 
L 503.424 134.424896 
L 504.024 169.271701 
L 504.624 135.769295 
L 505.224 167.111348 
L 505.824 144.73195 
L 506.424 174.649295 
L 507.024 153.547738 
L 507.624 174.649295 
L 508.224 152.78639 
L 508.824 172.856763 
L 509.424 150.097593 
L 510.024 171.319111 
L 510.624 147.856929 
L 511.224 179.130622 
L 511.824 153.682656 
L 512.424 180.026888 
L 513.024 160.85278 
L 513.624 177.338091 
L 514.224 163.541577 
L 514.824 180.923154 
L 515.424 168.022905 
L 516.024 182.446805 
L 516.624 170.711701 
L 517.224 179.130622 
L 517.824 170.062262 
L 518.424 180.923154 
L 519.024 166.230373 
L 519.624 174.98031 
L 520.224 166.230373 
L 520.824 179.130622 
L 521.424 166.230373 
L 522.024 172.856763 
L 522.624 155.475187 
L 523.224 177.786224 
L 523.824 164.39584 
L 524.424 167.891904 
L 525.024 159.060249 
L 525.624 170.167967 
L 526.224 77.523983 
L 526.824 161.205311 
L 527.424 93.656763 
L 528.024 123.706292 
L 528.624 104.41195 
L 529.224 131.640498 
L 529.824 97.241826 
L 530.424 133.881162 
L 531.024 104.41195 
L 531.624 154.49527 
L 532.224 101.723154 
L 532.824 143.29195 
L 533.424 113.307503 
L 534.024 143.29195 
L 534.624 101.275021 
L 535.224 132.771761 
L 535.824 104.41195 
L 536.424 142.395685 
L 537.024 100.826888 
L 537.624 131.120167 
L 538.224 92.760498 
L 538.824 150.462075 
L 539.424 99.930622 
L 540.024 137.018091 
L 540.624 89.175436 
L 541.224 143.29195 
L 541.824 88.458423 
L 542.424 145.980747 
L 543.024 99.930622 
L 543.624 155.839668 
L 544.224 95.449295 
L 544.824 137.914357 
L 545.424 93.208631 
L 546.024 130.176232 
L 546.624 99.930622 
L 547.224 143.29195 
L 547.824 88.27917 
L 548.424 145.084481 
L 549.024 99.930622 
L 549.624 141.499419 
L 550.224 98.586224 
L 550.824 128.241658 
L 551.424 104.41195 
L 552.024 138.810622 
L 552.624 94.104896 
L 553.224 131.645055 
L 553.824 93.208631 
L 554.424 140.155021 
L 555.024 94.553029 
L 555.624 133.592101 
L 556.224 106.154755 
L 556.824 137.466224 
L 557.424 88.727303 
L 558.024 134.777427 
L 558.624 95.449295 
L 559.224 130.974487 
L 559.824 97.689959 
L 560.424 146.42888 
L 561.024 100.826888 
L 561.624 141.499419 
L 562.224 101.723154 
L 562.824 131.251272 
L 563.424 99.48249 
L 564.024 138.36249 
L 564.624 103.515685 
L 565.224 148.221411 
L 565.824 101.275021 
L 566.424 152.254606 
L 567.024 111.035213 
L 567.624 161.665394 
L 568.224 104.41195 
L 568.824 136.050588 
L 569.424 104.41195 
L 570.024 158.976598 
L 570.624 92.312365 
L 571.224 148.669544 
L 571.824 99.930622 
L 572.424 146.877012 
L 573.024 99.930622 
L 573.624 138.694432 
L 574.224 97.241826 
L 574.824 143.29195 
L 575.424 92.312365 
L 576.024 145.532614 
L 576.624 101.723154 
L 577.224 133.303085 
L 577.824 103.067552 
L 578.424 141.499419 
L 579.024 104.41195 
L 579.624 137.104615 
L 580.224 117.298409 
L 580.824 148.669544 
L 581.424 104.41195 
L 582.024 147.734197 
L 582.624 99.930622 
L 583.224 157.632199 
L 583.824 95.449295 
L 584.424 147.773278 
L 585.024 95.449295 
L 585.624 141.499419 
L 586.224 104.41195 
L 586.824 138.810622 
L 587.424 116.215035 
L 588.024 134.596704 
L 588.624 104.41195 
L 589.224 139.706888 
L 589.824 111.899306 
L 590.424 154.943402 
L 591.024 96.524813 
L 591.624 143.29195 
L 592.224 102.171286 
L 592.824 145.084481 
L 593.424 105.296266 
L 594.024 165.698589 
L 594.624 109.777593 
L 595.224 133.971969 
L 595.824 107.088797 
L 596.424 161.217261 
L 597.024 113.362656 
L 597.624 148.669544 
L 598.224 114.707054 
L 598.824 136.204632 
L 599.424 116.051452 
L 600.024 155.839668 
L 600.624 126.806639 
L 601.224 160.320996 
L 601.824 131.287967 
L 602.424 157.789667 
L 603.024 142.043154 
L 603.624 167.939253 
L 604.224 144.73195 
L 604.824 161.217261 
L 605.424 133.976763 
L 606.024 156.735934 
L 606.024 156.735934 
" clip-path="url(#p7437178275)" style="fill: none; stroke: #0000ff; stroke-width: 1.5; stroke-linecap: square"/>
   </g>
   <g id="line2d_41">
    <path d="M 94.530462 183.84 
L 94.530462 25.92 
" clip-path="url(#p7437178275)" style="fill: none; stroke-dasharray: 5.55,2.4; stroke-dashoffset: 0.3; stroke: #000000; stroke-width: 1.5"/>
   </g>
   <g id="line2d_42">
    <path d="M 197.501538 183.84 
L 197.501538 25.92 
" clip-path="url(#p7437178275)" style="fill: none; stroke-dasharray: 5.55,2.4; stroke-dashoffset: 0.3; stroke: #000000; stroke-width: 1.5"/>
   </g>
   <g id="line2d_43">
    <path d="M 300.472615 183.84 
L 300.472615 25.92 
" clip-path="url(#p7437178275)" style="fill: none; stroke-dasharray: 5.55,2.4; stroke-dashoffset: 0.3; stroke: #000000; stroke-width: 1.5"/>
   </g>
   <g id="line2d_44">
    <path d="M 403.443692 183.84 
L 403.443692 25.92 
" clip-path="url(#p7437178275)" style="fill: none; stroke-dasharray: 5.55,2.4; stroke-dashoffset: 0.3; stroke: #000000; stroke-width: 1.5"/>
   </g>
   <g id="line2d_45">
    <path d="M 506.414769 183.84 
L 506.414769 25.92 
" clip-path="url(#p7437178275)" style="fill: none; stroke-dasharray: 5.55,2.4; stroke-dashoffset: 0.3; stroke: #000000; stroke-width: 1.5"/>
   </g>
   <g id="patch_8">
    <path d="M 90.24 183.84 
L 90.24 25.92 
" style="fill: none; stroke: #000000; stroke-width: 0.9; stroke-linejoin: miter; stroke-linecap: square"/>
   </g>
   <g id="patch_9">
    <path d="M 648 183.84 
L 648 25.92 
" style="fill: none; stroke: #000000; stroke-width: 0.9; stroke-linejoin: miter; stroke-linecap: square"/>
   </g>
   <g id="patch_10">
    <path d="M 90.24 183.84 
L 648 183.84 
" style="fill: none; stroke: #000000; stroke-width: 0.9; stroke-linejoin: miter; stroke-linecap: square"/>
   </g>
   <g id="patch_11">
    <path d="M 90.24 25.92 
L 648 25.92 
" style="fill: none; stroke: #000000; stroke-width: 0.9; stroke-linejoin: miter; stroke-linecap: square"/>
   </g>
   <g id="text_22">
    <text style="font-size: 8.9px; font-family: 'DejaVu Sans', 'Liberation Sans', sans-serif; text-anchor: start; fill: #333333" x="98.306068" y="45.599262" transform="rotate(-0 98.306068 45.599262)">03/08</text>
   </g>
   <g id="text_23">
    <text style="font-size: 8.9px; font-family: 'DejaVu Sans', 'Liberation Sans', sans-serif; text-anchor: start; fill: #333333" x="201.277145" y="45.599262" transform="rotate(-0 201.277145 45.599262)">03/09</text>
   </g>
   <g id="text_24">
    <text style="font-size: 8.9px; font-family: 'DejaVu Sans', 'Liberation Sans', sans-serif; text-anchor: start; fill: #333333" x="304.248222" y="45.599262" transform="rotate(-0 304.248222 45.599262)">03/10</text>
   </g>
   <g id="text_25">
    <text style="font-size: 8.9px; font-family: 'DejaVu Sans', 'Liberation Sans', sans-serif; text-anchor: start; fill: #333333" x="407.219298" y="45.599262" transform="rotate(-0 407.219298 45.599262)">03/11</text>
   </g>
   <g id="text_26">
    <text style="font-size: 8.9px; font-family: 'DejaVu Sans', 'Liberation Sans', sans-serif; text-anchor: start; fill: #333333" x="510.190375" y="45.599262" transform="rotate(-0 510.190375 45.599262)">03/12</text>
   </g>
   <g id="legend_1">
    <g id="patch_12">
     <path d="M 92.24 22.7616 
L 426.436875 22.7616 
Q 428.436875 22.7616 428.436875 20.7616 
L 428.436875 7.083475 
Q 428.436875 5.083475 426.436875 5.083475 
L 92.24 5.083475 
Q 90.24 5.083475 90.24 7.083475 
L 90.24 20.7616 
Q 90.24 22.7616 92.24 22.7616 
z
" style="fill: #ffffff; opacity: 0.8; stroke: #cccccc; stroke-linejoin: miter"/>
    </g>
    <g id="line2d_46">
     <path d="M 94.24 13.181912 
L 104.24 13.181912 
L 114.24 13.181912 
" style="fill: none; stroke: #bfbf00; stroke-opacity: 0.5; stroke-width: 1.5; stroke-linecap: square"/>
    </g>
    <g id="text_27">
     <text style="font-size: 10px; font-family: 'DejaVu Sans', 'Liberation Sans', sans-serif; text-anchor: start" x="122.24" y="16.681912" transform="rotate(-0 122.24 16.681912)">10m Wind Speed (5s)</text>
    </g>
    <g id="line2d_47">
     <path d="M 249.893125 13.181912 
L 259.893125 13.181912 
L 269.893125 13.181912 
" style="fill: none; stroke: #0000ff; stroke-width: 1.5; stroke-linecap: square"/>
    </g>
    <g id="text_28">
     <text style="font-size: 10px; font-family: 'DejaVu Sans', 'Liberation Sans', sans-serif; text-anchor: start" x="277.893125" y="16.681912" transform="rotate(-0 277.893125 16.681912)">2-minute Avg</text>
    </g>
    <g id="patch_13">
     <path d="M 364.629063 16.681912 
L 384.629063 16.681912 
L 384.629063 9.681912 
L 364.629063 9.681912 
z
" style="fill: #d3d3d3; fill-opacity: 0.5; stroke: #d3d3d3; stroke-opacity: 0.5; stroke-linejoin: miter"/>
    </g>
    <g id="text_29">
     <text style="font-size: 10px; font-family: 'DejaVu Sans', 'Liberation Sans', sans-serif; text-anchor: start" x="392.629063" y="16.681912" transform="rotate(-0 392.629063 16.681912)">NIGHT</text>
    </g>
   </g>
  </g>
  <g id="axes_2">
   <g id="matplotlib.axis_3">
    <g id="ytick_6">
     <g id="line2d_48">
      
      <g>
       <path d="M 0 0 L 3.5 0" transform="translate(648 183.84)" style="stroke: #000000; stroke-width: 0.9"/>
      </g>
     </g>
     <g id="text_30">
      <text style="font-size: 10px; font-family: 'DejaVu Sans', 'Liberation Sans', sans-serif; text-anchor: start" x="655" y="187.639219" transform="rotate(-0 655 187.639219)">0.0</text>
     </g>
    </g>
    <g id="ytick_7">
     <g id="line2d_49">
      <g>
       <path d="M 0 0 L 3.5 0" transform="translate(648 144.36)" style="stroke: #000000; stroke-width: 0.9"/>
      </g>
     </g>
     <g id="text_31">
      <text style="font-size: 10px; font-family: 'DejaVu Sans', 'Liberation Sans', sans-serif; text-anchor: start" x="655" y="148.159219" transform="rotate(-0 655 148.159219)">7.3</text>
     </g>
    </g>
    <g id="ytick_8">
     <g id="line2d_50">
      <g>
       <path d="M 0 0 L 3.5 0" transform="translate(648 104.88)" style="stroke: #000000; stroke-width: 0.9"/>
      </g>
     </g>
     <g id="text_32">
      <text style="font-size: 10px; font-family: 'DejaVu Sans', 'Liberation Sans', sans-serif; text-anchor: start" x="655" y="108.679219" transform="rotate(-0 655 108.679219)">14.5</text>
     </g>
    </g>
    <g id="ytick_9">
     <g id="line2d_51">
      <g>
       <path d="M 0 0 L 3.5 0" transform="translate(648 65.4)" style="stroke: #000000; stroke-width: 0.9"/>
      </g>
     </g>
     <g id="text_33">
      <text style="font-size: 10px; font-family: 'DejaVu Sans', 'Liberation Sans', sans-serif; text-anchor: start" x="655" y="69.199219" transform="rotate(-0 655 69.199219)">21.8</text>
     </g>
    </g>
    <g id="ytick_10">
     <g id="line2d_52">
      <g>
       <path d="M 0 0 L 3.5 0" transform="translate(648 25.92)" style="stroke: #000000; stroke-width: 0.9"/>
      </g>
     </g>
     <g id="text_34">
      <text style="font-size: 10px; font-family: 'DejaVu Sans', 'Liberation Sans', sans-serif; text-anchor: start" x="655" y="29.719219" transform="rotate(-0 655 29.719219)">29.1</text>
     </g>
    </g>
    <g id="text_35">
     <text style="font-size: 10px; font-family: 'DejaVu Sans', 'Liberation Sans', sans-serif; text-anchor: middle" x="689.364062" y="106.224" transform="rotate(-90 689.364062 106.224)">mph</text>
    </g>
   </g>
   <g id="patch_14">
    <path d="M 90.24 183.84 
L 90.24 25.92 
" style="fill: none; stroke: #000000; stroke-width: 0.9; stroke-linejoin: miter; stroke-linecap: square"/>
   </g>
   <g id="patch_15">
    <path d="M 648 183.84 
L 648 25.92 
" style="fill: none; stroke: #000000; stroke-width: 0.9; stroke-linejoin: miter; stroke-linecap: square"/>
   </g>
   <g id="patch_16">
    <path d="M 90.24 183.84 
L 648 183.84 
" style="fill: none; stroke: #000000; stroke-width: 0.9; stroke-linejoin: miter; stroke-linecap: square"/>
   </g>
   <g id="patch_17">
    <path d="M 90.24 25.92 
L 648 25.92 
" style="fill: none; stroke: #000000; stroke-width: 0.9; stroke-linejoin: miter; stroke-linecap: square"/>
   </g>
  </g>
 </g>
 <defs>
  <clipPath id="p7437178275">
   <rect x="90.24" y="25.92" width="557.76" height="157.92"/>
  </clipPath>
 </defs>
</svg>

</body></html>
